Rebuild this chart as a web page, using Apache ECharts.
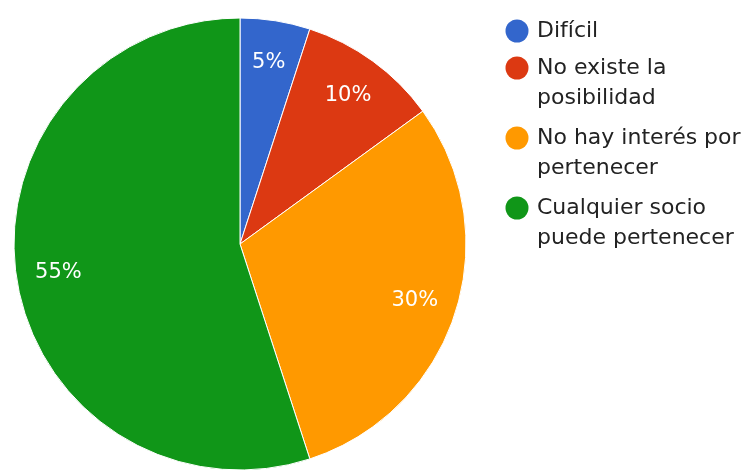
<!DOCTYPE html>
<html>
<head>
<meta charset="utf-8">
<script src="https://cdn.jsdelivr.net/npm/echarts@6/dist/echarts.min.js"></script>
<style>html,body{margin:0;padding:0;background:#fff;}#c{width:743px;height:470px;}</style>
</head>
<body>
<div id="c"></div>
<script>
const categories = ["Difícil", "No existe la posibilidad", "No hay interés por pertenecer", "Cualquier socio puede pertenecer"];
const legendLabels = ["Difícil", "No existe la\nposibilidad", "No hay interés por\npertenecer", "Cualquier socio\npuede pertenecer"];
const values = [5, 10, 30, 55];
const colors = ["#3366cc", "#dc3912", "#ff9900", "#109618"];

const R = 226;
// circle icon in a 30x30 box, and a circle at the top of a 30x60 box
const iconOne = 'path://M0,0M30,30M3.5,15a11.5,11.5 0 1,0 23,0a11.5,11.5 0 1,0 -23,0z';
const iconTwo = 'path://M0,0M30,60M3.5,15a11.5,11.5 0 1,0 23,0a11.5,11.5 0 1,0 -23,0z';
const fmt = name => legendLabels[categories.indexOf(name)];
const legendText = { fontFamily: 'DejaVu Sans', fontSize: 22, color: '#222', lineHeight: 30 };

const data = categories.map((n, i) => ({ name: n, value: values[i], itemStyle: { color: colors[i] } }));
const chart = echarts.init(document.getElementById('c'), null, { renderer: 'canvas' });
chart.setOption({
  animation: false,
  color: colors,
  legend: [
    {
      orient: 'vertical', left: 497, top: 11, padding: 5,
      itemWidth: 30, itemHeight: 30, itemGap: 0,
      icon: iconOne, selectedMode: false,
      itemStyle: { borderWidth: 0 },
      data: categories.filter((n, i) => legendLabels[i].indexOf('\n') < 0),
      formatter: fmt, textStyle: legendText
    },
    {
      orient: 'vertical', left: 497, top: 48, padding: 5,
      itemWidth: 30, itemHeight: 60, itemGap: 10,
      icon: iconTwo, selectedMode: false,
      itemStyle: { borderWidth: 0 },
      data: categories.filter((n, i) => legendLabels[i].indexOf('\n') >= 0),
      formatter: fmt, textStyle: legendText
    }
  ],
  series: [
    {
      type: 'pie',
      center: [240, 244],
      radius: [0, R],
      startAngle: 90,
      clockwise: true,
      label: { show: false },
      labelLine: { show: false },
      itemStyle: { borderColor: '#fff', borderWidth: 1 },
      emphasis: { disabled: true },
      data: data
    },
    {
      type: 'pie',
      center: [240, 244],
      radius: [R * 0.6, R],
      startAngle: 90,
      clockwise: true,
      silent: true,
      itemStyle: { color: 'rgba(0,0,0,0)', borderWidth: 0 },
      label: {
        show: true,
        position: 'inside',
        formatter: p => p.value + '%',
        color: '#fff',
        fontFamily: 'DejaVu Sans',
        fontSize: 21,
        textBorderWidth: 0
      },
      labelLine: { show: false },
      emphasis: { disabled: true },
      data: categories.map((n, i) => ({ name: n, value: values[i] }))
    }
  ]
});
</script>
</body>
</html>
